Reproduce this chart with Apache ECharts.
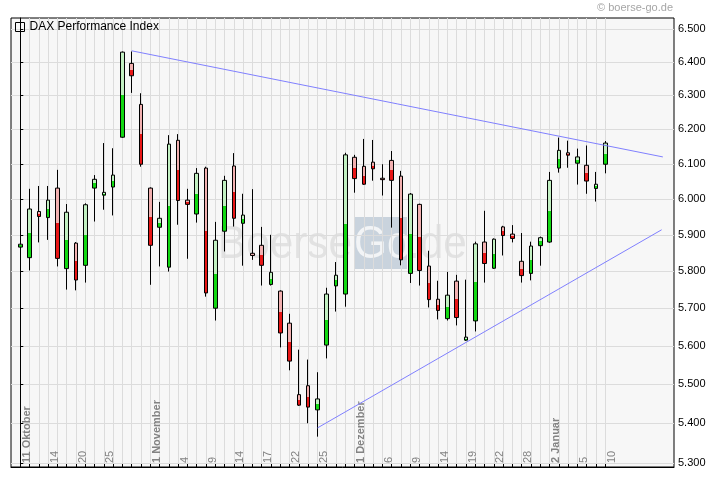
<!DOCTYPE html>
<html><head><meta charset="utf-8">
<script src="https://cdn.jsdelivr.net/npm/echarts@6/dist/echarts.min.js"></script>
<style>html,body{margin:0;padding:0;background:#fff}#c{width:720px;height:481px}</style>
</head><body><div id="c"></div>
<script>
const seriesName = 'DAX Performance Index';
const openV  = [5866,5837,5965,5948,6031,5807,5877,5816,6031,6011,6034,6177,6395,6273,6031,5921,5811,6168,5997,5958,6088,5700,5910,6094,5932,5849,5871,5764,5746,5660,5473,5496,5434,5602,5760,5738,6119,6093,6105,6059,6110,6065,5794,5985,5814,5724,5672,5773,5615,5666,5880,5808,5922,5902,5827,5794,5870,5880,6088,6132,6102,6096,6030,6099];
const closeV = [5874,5972,5951,5997,5835,5963,5776,5984,6056,6019,6068,6429,6358,6099,5871,5946,6157,5996,5985,6073,5741,5885,6053,5946,5955,5843,5816,5797,5634,5560,5446,5441,5462,5738,5789,6126,6058,6042,6086,6055,6053,5831,6014,5802,5723,5694,5735,5675,5623,5875,5821,5888,5898,5890,5788,5869,5892,6053,6139,6125,6120,6051,6042,6160];
const highV  = [5884,6029,6037,6037,6083,5986,5880,5988,6068,6160,6145,6431,6431,6306,6033,5992,6183,6186,6029,6088,6092,5936,6066,6131,6015,6028,5922,5900,5748,5685,5590,5564,5531,5755,5825,6132,6126,6172,6169,6099,6137,6080,6017,5987,5856,5774,5798,5790,5777,5881,5967,5890,5925,5927,5905,5881,5895,6077,6176,6167,6144,6153,6077,6166];
const lowV   = [5775,5802,5879,5886,5813,5750,5748,5769,5937,5970,5954,6175,6307,6092,5763,5813,5799,5928,5834,5934,5731,5667,5854,5923,5815,5831,5761,5761,5596,5536,5444,5400,5366,5567,5691,5704,6018,6040,6052,6010,5920,5816,5768,5761,5702,5670,5667,5654,5613,5638,5769,5806,5843,5879,5769,5775,5815,5878,6075,6089,6041,6015,5993,6073];
const tickDayIndex = [0,3,6,9,14,17,20,23,26,29,32,36,39,42,45,48,51,54,57,60,63];
const tickLabels = ['11 Oktober','14','20','25','1 November','4','9','14','17','22','25','1 Dezember','6','9','14','19','22','28','2 Januar','5','10'];
const monthLabels = ['11 Oktober','1 November','1 Dezember','2 Januar'];
const yTickValues = [5300,5400,5500,5600,5700,5800,5900,6000,6100,6200,6300,6400,6500];
const yMin = 5290, yMax = 6533;
const xMin = -1, xMax = 70.4;
const upperTrend = [[12, 6433], [69.2, 6120]];
const lowerTrend = [[32, 5388], [69.07, 5914]];

const FONT = 'Liberation Sans, Arial, sans-serif';
const L = Math.log;
const LABEL_SHIFT = 1.3;

function fmtDE(n) {
  const t = Math.floor(n / 1000), r = n % 1000;
  return t + '.' + String(r).padStart(3, '0');
}

const candleData = openV.map((o, i) => {
  const lo = L(o), lc = L(closeV[i]), lh = L(highV[i]), ll = L(lowV[i]);
  const up = closeV[i] >= o;
  const mid = (lo + lc) / 2;
  const off = lh > ll ? Math.min(1, Math.max(0, (lh - mid) / (lh - ll))) : 0.5;
  const light = up ? '#c2f0c2' : '#f2b0b0';
  const dark = up ? '#12d812' : '#e81616';
  const grad = {type: 'linear', x: 0, y: 0, x2: 0, y2: 1, colorStops: [
    {offset: 0, color: light}, {offset: off, color: light},
    {offset: off, color: dark}, {offset: 1, color: dark}]};
  return {value: [i, lo, lc, ll, lh], itemStyle: {color: grad, color0: grad}};
});

const chart = echarts.init(document.getElementById('c'), null, {renderer: 'canvas'});
chart.setOption({
  animation: false,
  backgroundColor: '#ffffff',
  grid: {left: 11, top: 18, right: 46, bottom: 14, show: true, backgroundColor: '#f7f7f7',
         borderColor: '#000', borderWidth: 1, containLabel: false, outerBoundsMode: 'none'},
  legend: {show: true, left: 15, top: 21, padding: 0, itemWidth: 9, itemHeight: 9, selectedMode: false,
    data: [{name: seriesName, icon: 'rect', itemStyle: {color: 'rgba(0,0,0,0)', borderColor: '#000', borderWidth: 1}}],
    textStyle: {color: '#000', fontSize: 12, fontFamily: FONT}},
  graphic: [
    {type: 'rect', z: 0, silent: true, shape: {x: 354, y: 217, width: 53, height: 52}, style: {fill: '#c9d3dd'}},
    {type: 'text', z: 0, silent: true, x: 218, y: 245, scaleX: 0.9,
      style: {text: 'Boerse', fill: '#e2e2e2', font: '47px ' + FONT, textVerticalAlign: 'middle'}},
    {type: 'text', z: 0, silent: true, x: 354, y: 245, scaleX: 0.9,
      style: {text: 'Go', fill: '#f2f4f6', font: '47px ' + FONT, textVerticalAlign: 'middle'}},
    {type: 'text', z: 0, silent: true, x: 408, y: 245, scaleX: 0.9,
      style: {text: '.de', fill: '#e2e2e2', font: '47px ' + FONT, textVerticalAlign: 'middle'}},
    {type: 'text', z: 5, silent: true, x: 673, y: 8,
      style: {text: '\u00a9 boerse-go.de', fill: '#a6a6a6', font: '11px ' + FONT, textAlign: 'right', textVerticalAlign: 'middle'}}
  ],
  xAxis: {
    type: 'value', min: xMin, max: xMax,
    axisLine: {show: true, onZero: false, lineStyle: {color: '#000', width: 1}},
    axisTick: {show: true, inside: true, length: 3, customValues: openV.map((_, i) => i), lineStyle: {color: '#000'}},
    axisLabel: {show: true, inside: true, rotate: 90, margin: 4, verticalAlign: 'bottom',
      customValues: tickDayIndex.map(i => i + LABEL_SHIFT),
      formatter: v => {
        const k = tickDayIndex.findIndex(i => Math.abs(i + LABEL_SHIFT - v) < 0.01);
        if (k < 0) return '';
        const t = tickLabels[k];
        return monthLabels.indexOf(t) >= 0 ? '{b|' + t + '}' : '{n|' + t + '}';
      },
      color: '#838383', fontSize: 11, fontFamily: FONT,
      rich: {b: {fontWeight: 'bold', color: '#838383', fontSize: 11, fontFamily: FONT},
             n: {color: '#838383', fontSize: 11, fontFamily: FONT}}},
    splitLine: {show: true, lineStyle: {color: '#dcdcdc', width: 1}}
  },
  yAxis: {
    type: 'value', position: 'right', min: L(yMin), max: L(yMax),
    axisLine: {show: true, lineStyle: {color: '#000', width: 1}},
    axisTick: {show: true, length: 3, customValues: yTickValues.map(L), lineStyle: {color: '#000'}},
    axisLabel: {show: true, margin: 4, customValues: yTickValues.map(L),
      formatter: v => fmtDE(Math.round(Math.exp(v) / 100) * 100),
      color: '#000', fontSize: 11, fontFamily: FONT},
    splitLine: {show: true, lineStyle: {color: '#dcdcdc', width: 1}}
  },
  series: [
    {name: seriesName, type: 'candlestick', barWidth: 4, encode: {x: 0, y: [1, 2, 3, 4]},
      itemStyle: {borderColor: '#000', borderColor0: '#000', borderWidth: 1},
      data: candleData, z: 3},
    {name: 'upper', type: 'line', symbol: 'none', silent: true, z: 4,
      lineStyle: {color: '#8080ff', width: 1}, data: upperTrend.map(p => [p[0], L(p[1])])},
    {name: 'lower', type: 'line', symbol: 'none', silent: true, z: 4,
      lineStyle: {color: '#8080ff', width: 1}, data: lowerTrend.map(p => [p[0], L(p[1])])}
  ]
});
</script></body></html>
